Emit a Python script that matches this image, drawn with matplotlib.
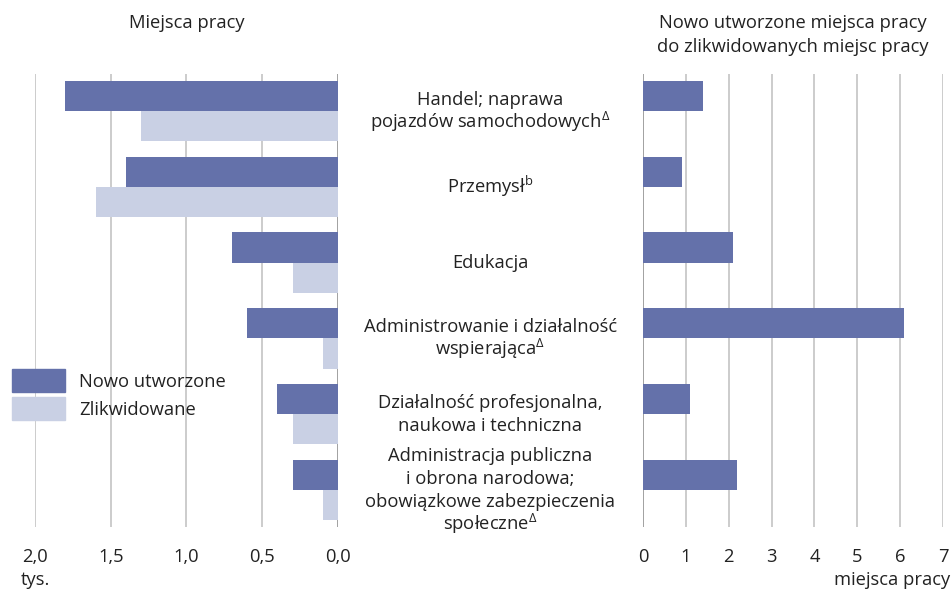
import matplotlib
matplotlib.use("Agg")
import matplotlib.pyplot as plt
import matplotlib.transforms as mtransforms
from matplotlib.patches import Patch
import numpy as np

plt.rcParams['font.family'] = ['Open Sans', 'DejaVu Sans']
plt.rcParams['mathtext.fontset'] = 'custom'
plt.rcParams['mathtext.rm'] = 'Open Sans'
plt.rcParams['mathtext.it'] = 'Open Sans'

categories = [
    "Handel; naprawa\npojazdów samochodowych$^{\\Delta}$",
    "Przemysł$^{\\mathrm{b}}$",
    "Edukacja",
    "Administrowanie i działalność\nwspierająca$^{\\Delta}$",
    "Działalność profesjonalna,\nnaukowa i techniczna",
    "Administracja publiczna\ni obrona narodowa;\nobowiązkowe zabezpieczenia\nspołeczne$^{\\Delta}$",
]
new_jobs = [1.8, 1.4, 0.7, 0.6, 0.4, 0.3]          # tys.
liquidated_jobs = [1.3, 1.6, 0.3, 0.1, 0.3, 0.1]   # tys.
ratio = [1.4, 0.9, 2.1, 6.1, 1.1, 2.2]             # miejsca pracy

left_ticks = [2.0, 1.5, 1.0, 0.5, 0.0]
left_ticklabels = ["2,0", "1,5", "1,0", "0,5", "0,0"]
right_ticks = [0, 1, 2, 3, 4, 5, 6, 7]

c_new = "#6471aa"
c_liq = "#c9d0e4"
c_grid = "#c8c8c8"
c_zero = "#9a9a9a"
txt = "#222222"
fs = 13.2

W, H = 952, 592
DPI = 100
fig = plt.figure(figsize=(W / DPI, H / DPI), dpi=DPI)

top_px, bot_px = 74, 527
axL = fig.add_axes([35 / W, 1 - bot_px / H, (338 - 35) / W, (bot_px - top_px) / H])
axR = fig.add_axes([643 / W, 1 - bot_px / H, (943 - 643) / W, (bot_px - top_px) / H])

y = np.arange(len(categories))
bh = 0.4

# left chart
axL.barh(y - bh / 2, new_jobs, height=bh, color=c_new, zorder=3)
axL.barh(y + bh / 2, liquidated_jobs, height=bh, color=c_liq, zorder=3)
for t in left_ticks:
    axL.axvline(t, color=c_zero if t == 0 else c_grid, lw=1.3, zorder=1)
axL.set_xlim(2.0, 0.0)
axL.set_ylim(len(categories) - 0.51, -0.49)
axL.set_xticks(left_ticks)
axL.set_xticklabels(left_ticklabels)

# right chart
axR.barh(y - bh / 2, ratio, height=bh, color=c_new, zorder=3)
for t in right_ticks:
    axR.axvline(t, color=c_zero if t == 0 else c_grid, lw=1.3, zorder=1)
axR.set_xlim(0, 7)
axR.set_ylim(len(categories) - 0.51, -0.49)
axR.set_xticks(right_ticks)

for ax in (axL, axR):
    for s in ax.spines.values():
        s.set_visible(False)
    ax.set_yticks([])
    ax.tick_params(axis='x', length=0, pad=15, labelsize=fs, labelcolor=txt)
    ax.patch.set_alpha(0)

# category labels, line by line (baseline-anchored)
line_px = 23.0
base_off = 5.5
tr = mtransforms.blended_transform_factory(fig.transFigure, axL.transData)
for i, c in enumerate(categories):
    lines = c.split("\n")
    n = len(lines)
    for j, ln in enumerate(lines):
        off = (j - (n - 1) / 2) * line_px + base_off
        t = tr + mtransforms.ScaledTranslation(0, -off / DPI, fig.dpi_scale_trans)
        fig.text(490.5 / W, y[i], ln, transform=t, ha='center', va='baseline',
                 fontsize=fs, color=txt)

# titles
def ftext(xp, yp, s, ha='center'):
    fig.text(xp / W, 1 - yp / H, s, ha=ha, va='baseline', fontsize=fs, color=txt)

ftext(186.5, 28, "Miejsca pracy")
ftext(793, 28, "Nowo utworzone miejsca pracy")
ftext(793, 52, "do zlikwidowanych miejsc pracy")

# unit labels
ftext(35, 585, "tys.")
ftext(950, 585, "miejsca pracy", ha='right')

# legend
handles = [Patch(color=c_new, label="Nowo utworzone"), Patch(color=c_liq, label="Zlikwidowane")]
fig.legend(handles=handles, loc='upper left', bbox_to_anchor=(12 / W, 1 - 369 / H),
           frameon=False, fontsize=fs, handlelength=2.9, handleheight=1.55,
           labelspacing=0.3, borderpad=0, borderaxespad=0, handletextpad=0.75,
           labelcolor=txt)

fig.savefig("out.png", dpi=DPI)
